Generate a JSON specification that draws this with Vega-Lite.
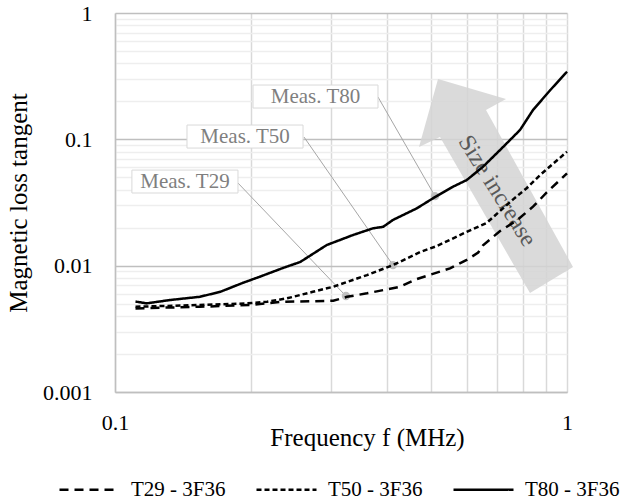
{
  "$schema": "https://vega.github.io/schema/vega-lite/v6.json",
  "width": 452,
  "height": 379,
  "autosize": {"type": "none"},
  "padding": {"left": 115, "top": 13, "right": 64, "bottom": 112},
  "background": "white",
  "config": {
    "font": "Liberation Serif",
    "view": {"stroke": null},
    "axis": {"labelFont": "Liberation Serif", "titleFont": "Liberation Serif"},
    "legend": {"labelFont": "Liberation Serif", "titleFont": "Liberation Serif"},
    "text": {"font": "Liberation Serif"}
  },
  "datasets": {
    "curves": [
      {"series": "T29 - 3F36", "f": 0.111, "tan": 0.00459},
      {"series": "T29 - 3F36", "f": 0.154, "tan": 0.00473},
      {"series": "T29 - 3F36", "f": 0.199, "tan": 0.00488},
      {"series": "T29 - 3F36", "f": 0.235, "tan": 0.00518},
      {"series": "T29 - 3F36", "f": 0.304, "tan": 0.00527},
      {"series": "T29 - 3F36", "f": 0.326, "tan": 0.00567},
      {"series": "T29 - 3F36", "f": 0.361, "tan": 0.00604},
      {"series": "T29 - 3F36", "f": 0.427, "tan": 0.00681},
      {"series": "T29 - 3F36", "f": 0.465, "tan": 0.00783},
      {"series": "T29 - 3F36", "f": 0.551, "tan": 0.00952},
      {"series": "T29 - 3F36", "f": 0.6, "tan": 0.0111},
      {"series": "T29 - 3F36", "f": 0.636, "tan": 0.0127},
      {"series": "T29 - 3F36", "f": 0.652, "tan": 0.0145},
      {"series": "T29 - 3F36", "f": 0.711, "tan": 0.0188},
      {"series": "T29 - 3F36", "f": 0.774, "tan": 0.0228},
      {"series": "T29 - 3F36", "f": 0.841, "tan": 0.0293},
      {"series": "T29 - 3F36", "f": 0.902, "tan": 0.038},
      {"series": "T29 - 3F36", "f": 1.0, "tan": 0.0538},
      {"series": "T50 - 3F36", "f": 0.111, "tan": 0.00473},
      {"series": "T50 - 3F36", "f": 0.154, "tan": 0.00488},
      {"series": "T50 - 3F36", "f": 0.196, "tan": 0.00503},
      {"series": "T50 - 3F36", "f": 0.217, "tan": 0.00518},
      {"series": "T50 - 3F36", "f": 0.24, "tan": 0.00551},
      {"series": "T50 - 3F36", "f": 0.274, "tan": 0.00621},
      {"series": "T50 - 3F36", "f": 0.304, "tan": 0.00681},
      {"series": "T50 - 3F36", "f": 0.361, "tan": 0.00842},
      {"series": "T50 - 3F36", "f": 0.412, "tan": 0.0101},
      {"series": "T50 - 3F36", "f": 0.473, "tan": 0.0128},
      {"series": "T50 - 3F36", "f": 0.515, "tan": 0.0143},
      {"series": "T50 - 3F36", "f": 0.6, "tan": 0.0185},
      {"series": "T50 - 3F36", "f": 0.664, "tan": 0.0218},
      {"series": "T50 - 3F36", "f": 0.76, "tan": 0.0335},
      {"series": "T50 - 3F36", "f": 0.814, "tan": 0.041},
      {"series": "T50 - 3F36", "f": 0.871, "tan": 0.052},
      {"series": "T50 - 3F36", "f": 1.0, "tan": 0.0798},
      {"series": "T80 - 3F36", "f": 0.111, "tan": 0.0052},
      {"series": "T80 - 3F36", "f": 0.1175, "tan": 0.00503},
      {"series": "T80 - 3F36", "f": 0.132, "tan": 0.00534},
      {"series": "T80 - 3F36", "f": 0.154, "tan": 0.00567},
      {"series": "T80 - 3F36", "f": 0.171, "tan": 0.00621},
      {"series": "T80 - 3F36", "f": 0.192, "tan": 0.00732},
      {"series": "T80 - 3F36", "f": 0.209, "tan": 0.00817},
      {"series": "T80 - 3F36", "f": 0.235, "tan": 0.00957},
      {"series": "T80 - 3F36", "f": 0.257, "tan": 0.0107},
      {"series": "T80 - 3F36", "f": 0.294, "tan": 0.01456},
      {"series": "T80 - 3F36", "f": 0.336, "tan": 0.01747},
      {"series": "T80 - 3F36", "f": 0.372, "tan": 0.01974},
      {"series": "T80 - 3F36", "f": 0.392, "tan": 0.0203},
      {"series": "T80 - 3F36", "f": 0.412, "tan": 0.023},
      {"series": "T80 - 3F36", "f": 0.465, "tan": 0.0284},
      {"series": "T80 - 3F36", "f": 0.505, "tan": 0.0341},
      {"series": "T80 - 3F36", "f": 0.559, "tan": 0.0421},
      {"series": "T80 - 3F36", "f": 0.6, "tan": 0.0476},
      {"series": "T80 - 3F36", "f": 0.652, "tan": 0.0607},
      {"series": "T80 - 3F36", "f": 0.711, "tan": 0.0823},
      {"series": "T80 - 3F36", "f": 0.787, "tan": 0.1185},
      {"series": "T80 - 3F36", "f": 0.841, "tan": 0.1706},
      {"series": "T80 - 3F36", "f": 0.917, "tan": 0.244},
      {"series": "T80 - 3F36", "f": 1.0, "tan": 0.343}
    ],
    "ann": [
      {"label": "Meas. T80", "bx1": 0.202, "bx2": 0.3818, "by1": 0.1769, "by2": 0.2691, "tx": 0.2777, "ty": 0.2182, "lx1": 0.3818, "ly1": 0.2163, "lx2": 0.5105, "ly2": 0.0355},
      {"label": "Meas. T50", "bx1": 0.1443, "bx2": 0.2606, "by1": 0.0853, "by2": 0.1298, "tx": 0.194, "ty": 0.1043, "lx1": 0.2619, "ly1": 0.1043, "lx2": 0.4121, "ly2": 0.0101},
      {"label": "Meas. T29", "bx1": 0.109, "bx2": 0.1871, "by1": 0.0376, "by2": 0.0571, "tx": 0.1428, "ty": 0.0463, "lx1": 0.1871, "ly1": 0.0451, "lx2": 0.3243, "ly2": 0.00575}
    ],
    "arrow": [{"f": 0.6965, "tan": 0.0427, "text": "Size increase", "tf": 0.7, "ttan": 0.039}]
  },
  "layer": [
    {
      "data": {"name": "arrow"},
      "mark": {"type": "point", "shape": "M-0.527,-0.973L0.091,-0.791L-0.091,-0.691L0.7,0.736L0.309,0.973L-0.509,-0.445L-0.7,-0.355Z", "size": 48400, "filled": true, "color": "#d4d4d4", "opacity": 0.85, "strokeWidth": 0},
      "encoding": {
        "x": {"field": "f", "type": "quantitative", "scale": {"type": "log", "domain": [0.1, 1], "nice": false},
          "axis": {
            "values": [0.1, 0.2, 0.3, 0.4, 0.5, 0.6, 0.7, 0.8, 0.9, 1],
            "format": "~g",
            "labelExpr": "datum.value == 0.1 || datum.value == 1 ? datum.label : ''",
            "labelFlush": false,
            "labelOverlap": false,
            "labelFont": "Liberation Serif", "titleFont": "Liberation Serif",
            "grid": true, "gridColor": "#d9d9d9", "gridWidth": 1.5,
            "ticks": false, "domainColor": "#bfbfbf", "domainWidth": 1.5,
            "labelFontSize": 22, "labelPadding": 20, "labelColor": "#000000",
            "title": "Frequency f (MHz)", "titleFontSize": 25, "titleFontWeight": "normal", "titleColor": "#000000",
            "titlePadding": -8, "titleX": 252
          }},
        "y": {"field": "tan", "type": "quantitative", "scale": {"type": "log", "domain": [0.001, 1], "nice": false},
          "axis": {
            "values": [0.001, 0.002, 0.003, 0.004, 0.005, 0.006, 0.007, 0.008, 0.009, 0.01, 0.02, 0.03, 0.04, 0.05, 0.06, 0.07, 0.08, 0.09, 0.1, 0.2, 0.3, 0.4, 0.5, 0.6, 0.7, 0.8, 0.9, 1],
            "format": "~g",
            "labelExpr": "datum.value == 0.001 || datum.value == 0.01 || datum.value == 0.1 || datum.value == 1 ? datum.label : ''",
            "labelFlush": false,
            "labelOverlap": false,
            "labelFont": "Liberation Serif", "titleFont": "Liberation Serif",
            "grid": true,
            "gridColor": {"condition": {"test": "datum.value == 0.001 || datum.value == 0.01 || datum.value == 0.1 || datum.value == 1", "value": "#bfbfbf"}, "value": "#eeeeee"},
            "gridWidth": 1.5,
            "ticks": false, "domainColor": "#bfbfbf", "domainWidth": 1.5,
            "labelFontSize": 22, "labelPadding": 23, "labelColor": "#000000",
            "title": "Magnetic loss tangent", "titleFontSize": 25, "titleFontWeight": "normal", "titleColor": "#000000",
            "titlePadding": 11
          }}
      }
    },
    {
      "data": {"name": "arrow"},
      "mark": {"type": "text", "angle": 58, "fontSize": 24, "color": "#595959", "align": "center", "baseline": "middle", "font": "Liberation Serif"},
      "encoding": {
        "x": {"field": "tf", "type": "quantitative", "scale": {"type": "log", "domain": [0.1, 1], "nice": false}},
        "y": {"field": "ttan", "type": "quantitative", "scale": {"type": "log", "domain": [0.001, 1], "nice": false}},
        "text": {"field": "text"}
      }
    },
    {
      "data": {"name": "ann"},
      "mark": {"type": "rule", "color": "#a6a6a6", "strokeWidth": 1},
      "encoding": {
        "x": {"field": "lx1", "type": "quantitative", "scale": {"type": "log", "domain": [0.1, 1], "nice": false}},
        "x2": {"field": "lx2"},
        "y": {"field": "ly1", "type": "quantitative", "scale": {"type": "log", "domain": [0.001, 1], "nice": false}},
        "y2": {"field": "ly2"}
      }
    },
    {
      "data": {"name": "ann"},
      "mark": {"type": "point", "filled": true, "color": "#bfbfbf", "size": 70, "opacity": 1},
      "encoding": {
        "x": {"field": "lx2", "type": "quantitative", "scale": {"type": "log", "domain": [0.1, 1], "nice": false}},
        "y": {"field": "ly2", "type": "quantitative", "scale": {"type": "log", "domain": [0.001, 1], "nice": false}}
      }
    },
    {
      "data": {"name": "ann"},
      "mark": {"type": "rect", "fill": "white", "stroke": "#d9d9d9", "strokeWidth": 1},
      "encoding": {
        "x": {"field": "bx1", "type": "quantitative", "scale": {"type": "log", "domain": [0.1, 1], "nice": false}},
        "x2": {"field": "bx2"},
        "y": {"field": "by1", "type": "quantitative", "scale": {"type": "log", "domain": [0.001, 1], "nice": false}},
        "y2": {"field": "by2"}
      }
    },
    {
      "data": {"name": "ann"},
      "mark": {"type": "text", "fontSize": 21, "color": "#7f7f7f", "align": "center", "baseline": "middle", "font": "Liberation Serif"},
      "encoding": {
        "x": {"field": "tx", "type": "quantitative", "scale": {"type": "log", "domain": [0.1, 1], "nice": false}},
        "y": {"field": "ty", "type": "quantitative", "scale": {"type": "log", "domain": [0.001, 1], "nice": false}},
        "text": {"field": "label"}
      }
    },
    {
      "data": {"name": "curves"},
      "mark": {"type": "line", "color": "black", "strokeWidth": 2.5},
      "encoding": {
        "x": {"field": "f", "type": "quantitative", "scale": {"type": "log", "domain": [0.1, 1], "nice": false}},
        "y": {"field": "tan", "type": "quantitative", "scale": {"type": "log", "domain": [0.001, 1], "nice": false}},
        "strokeDash": {"field": "series", "type": "nominal",
          "scale": {"domain": ["T29 - 3F36", "T50 - 3F36", "T80 - 3F36"], "range": [[9, 6], [5, 3], [1, 0]]},
          "legend": {
            "orient": "none", "legendX": -57, "legendY": 445, "direction": "horizontal", "title": null,
            "symbolType": "stroke", "symbolStrokeColor": "black", "symbolStrokeWidth": 2.5, "symbolSize": 3600,
            "labelFont": "Liberation Serif",
            "labelFontSize": 21, "labelColor": "#000000", "labelOffset": 10, "columnPadding": 25, "padding": 0
          }},
        "order": {"field": "f", "type": "quantitative"}
      }
    }
  ]
}
